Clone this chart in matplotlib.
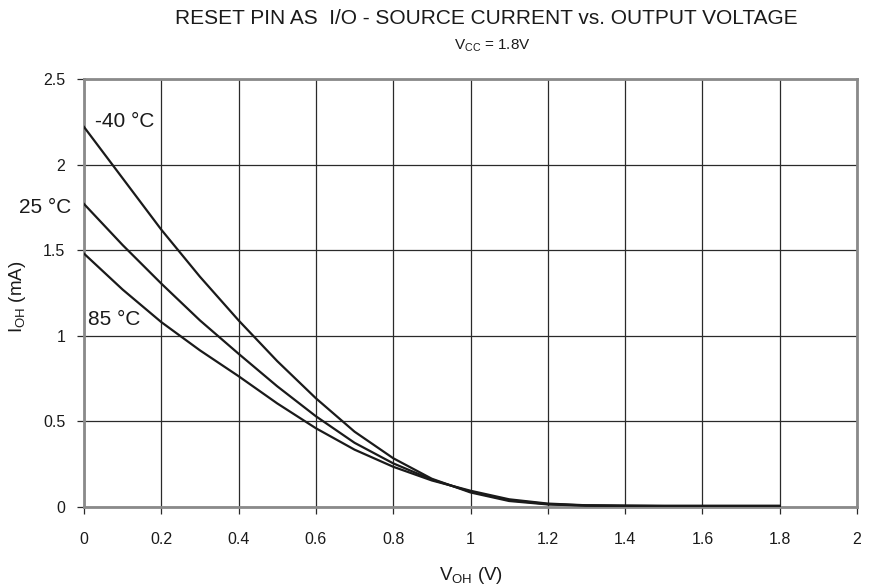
import matplotlib
matplotlib.use("Agg")
import matplotlib.pyplot as plt

plt.rcParams['font.family'] = ['Liberation Sans', 'DejaVu Sans']
plt.rcParams['mathtext.fontset'] = 'custom'
plt.rcParams['mathtext.rm'] = 'Liberation Sans'
plt.rcParams['mathtext.it'] = 'Liberation Sans'

voltage = [0.0, 0.1, 0.2, 0.3, 0.4, 0.5, 0.6, 0.7, 0.8, 0.9,
           1.0, 1.1, 1.2, 1.3, 1.4, 1.5, 1.6, 1.7, 1.8]
i_m40 = [2.22, 1.92, 1.62, 1.345, 1.09, 0.852, 0.635, 0.44, 0.285, 0.165,
         0.085, 0.035, 0.015, 0.008, 0.006, 0.005, 0.005, 0.005, 0.005]
i_25 = [1.77, 1.53, 1.305, 1.09, 0.895, 0.705, 0.53, 0.375, 0.255, 0.16,
        0.09, 0.04, 0.017, 0.009, 0.007, 0.006, 0.006, 0.006, 0.006]
i_85 = [1.48, 1.27, 1.08, 0.915, 0.764, 0.605, 0.46, 0.335, 0.235, 0.155,
        0.095, 0.045, 0.02, 0.01, 0.008, 0.007, 0.007, 0.007, 0.007]

x_ticks = [0, 0.2, 0.4, 0.6, 0.8, 1.0, 1.2, 1.4, 1.6, 1.8, 2.0]
x_ticklabels = ['0', '0.2', '0.4', '0.6', '0.8', '1', '1.2', '1.4', '1.6', '1.8', '2']
y_ticks = [0, 0.5, 1.0, 1.5, 2.0, 2.5]
y_ticklabels = ['0', '0.5', '1', '1.5', '2', '2.5']

fig = plt.figure(figsize=(8.69, 5.87), dpi=100)
ax = fig.add_axes([84/869, 1-507/587, (857-84)/869, (507-79)/587])

for series in (i_m40, i_25, i_85):
    ax.plot(voltage, series, color='#1a1a1a', lw=1.6, zorder=3)

ax.set_xlim(0, 2)
ax.set_ylim(0, 2.5)
ax.set_xticks(x_ticks)
ax.set_xticklabels(x_ticklabels)
ax.set_yticks(y_ticks)
ax.set_yticklabels(y_ticklabels)
ax.grid(True, color='#2a2a2a', lw=0.9)
ax.set_axisbelow(True)
for s in ax.spines.values():
    s.set_color('#8a8a8a')
    s.set_linewidth(2)
ax.tick_params(axis='both', length=5, width=0.9, color='#2a2a2a',
               labelsize=11.5, labelcolor='#1a1a1a')
ax.tick_params(axis='x', pad=13)
ax.tick_params(axis='y', pad=8.5)

ax.set_xlabel(r'V$_{\rm OH}$ (V)', fontsize=13.5, color='#1a1a1a')
ax.xaxis.label.set_va('center')
ax.xaxis.set_label_coords(0.5, (507-576)/428)
ax.set_ylabel(r'I$_{\rm OH}$ (mA)', fontsize=13.5, color='#1a1a1a')
ax.yaxis.label.set_va('center')
ax.yaxis.set_label_coords((18-84)/773, (507-297)/428)

fig.text(486/869, 1-18/587, 'RESET PIN AS  I/O - SOURCE CURRENT vs. OUTPUT VOLTAGE',
         ha='center', va='center', fontsize=15, color='#1a1a1a')
fig.text(492/869, 1-46/587, r'V$_{\rm CC}$ = 1.8V',
         ha='center', va='center', fontsize=11, color='#1a1a1a')

ax.text(0.028, 2.249, '-40 °C', ha='left', va='center', fontsize=15, color='#1a1a1a')
ax.text(-0.034, 1.75, '25 °C', ha='right', va='center', fontsize=15, color='#1a1a1a',
        clip_on=False)
ax.text(0.0104, 1.094, '85 °C', ha='left', va='center', fontsize=15, color='#1a1a1a')

fig.savefig('out.png', dpi=100)
